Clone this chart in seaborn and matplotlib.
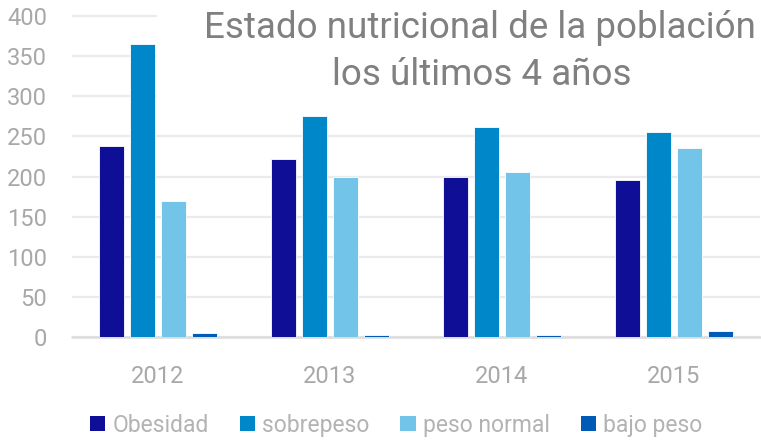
import matplotlib
matplotlib.use("Agg")
import matplotlib.pyplot as plt
import seaborn as sns
import pandas as pd
from matplotlib.patches import Rectangle, Patch

years = ["2012", "2013", "2014", "2015"]
categories = ["Obesidad", "sobrepeso", "peso normal", "bajo peso"]
obesidad = [238, 222, 200, 196]
sobrepeso = [365, 275, 262, 256]
peso_normal = [170, 199, 205, 235]
bajo_peso = [5, 2, 3, 7]
colors = ["#0E0E96", "#0087CA", "#72C5E8", "#005BB6"]
title_lines = ["Estado nutricional de la población", "los últimos 4 años"]

rows = []
for cat, vals in zip(categories, [obesidad, sobrepeso, peso_normal, bajo_peso]):
    for y, v in zip(years, vals):
        rows.append(dict(year=y, categoria=cat, valor=v))
df = pd.DataFrame(rows)

sns.set_style("white")
plt.rcParams["font.family"] = ["Roboto", "DejaVu Sans"]

W, H = 761, 440
fig = plt.figure(figsize=(W / 100, H / 100), dpi=100)
ax = fig.add_axes([72 / W, 1 - 337 / H, (760 - 72) / W, (337 - 12) / H])
sns.barplot(data=df, x="year", y="valor", hue="categoria", hue_order=categories,
            order=years, palette=colors, saturation=1, width=0.72, gap=0.19, ax=ax,
            edgecolor="#ffffff", linewidth=0.6, legend=False, zorder=3)
ax.set_ylim(0, 405)
ax.set_xlim(-0.5, 3.5)
ax.set_yticks(range(0, 401, 50))
ax.set_axisbelow(True)
ax.yaxis.grid(True, color="#ebebeb", linewidth=1.6, zorder=0)
for s in ax.spines.values():
    s.set_visible(False)
ax.axhline(0, color="#dcdcdc", linewidth=1.8, zorder=1, clip_on=False)
ax.tick_params(axis="both", length=0, labelsize=17, labelcolor="#a8a8a8")
ax.tick_params(axis="y", pad=18)
ax.tick_params(axis="x", pad=20)
ax.set_xlabel("")
ax.set_ylabel("")

# white panel behind title
fig.add_artist(Rectangle((157 / W, 1 - 112 / H), 1 - 157 / W, 112 / H,
                         transform=fig.transFigure, facecolor="white",
                         edgecolor="none", zorder=2))
fig.text(480 / W, 1 - 38 / H, title_lines[0], ha="center", va="baseline",
         fontsize=26.5, color="#808080", zorder=3)
fig.text(482 / W, 1 - 85 / H, title_lines[1], ha="center", va="baseline",
         fontsize=26.5, color="#808080", zorder=3)

handles = [Patch(facecolor=c, edgecolor="none", label=l) for c, l in zip(colors, categories)]
fig.legend(handles=handles, loc="center", bbox_to_anchor=(396 / W, 1 - 425 / H),
           ncol=4, frameon=False, fontsize=16.5, handlelength=0.68, handleheight=0.68,
           handletextpad=0.3, columnspacing=1.35, labelcolor="#b3b3b3")

fig.savefig("out.png", dpi=100)
